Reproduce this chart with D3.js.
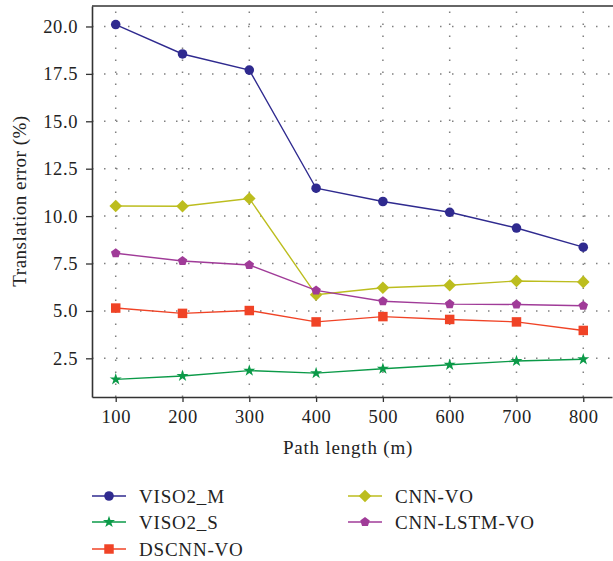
<!DOCTYPE html>
<html>
<head>
<meta charset="utf-8">
<script src="https://cdn.jsdelivr.net/npm/d3@7"></script>
<style>
  body { margin: 0; background: #fff; }
  text { font-family: "Liberation Serif", "Times New Roman", serif; fill: #222; }
</style>
</head>
<body>
<div id="chart"></div>
<script>
const pathLengths = [100, 200, 300, 400, 500, 600, 700, 800];
const viso2M = [20.1, 18.55, 17.7, 11.47, 10.77, 10.2, 9.37, 8.36];
const viso2S = [1.39, 1.57, 1.85, 1.72, 1.95, 2.16, 2.36, 2.45];
const dscnnVO = [5.15, 4.87, 5.02, 4.42, 4.7, 4.55, 4.42, 3.97];
const cnnVO = [10.53, 10.52, 10.93, 5.85, 6.22, 6.35, 6.58, 6.53];
const cnnLstmVO = [8.04, 7.63, 7.42, 6.08, 5.51, 5.36, 5.34, 5.27];
const yTicks = [2.5, 5.0, 7.5, 10.0, 12.5, 15.0, 17.5, 20.0];

const series = [
  { name: "VISO2_M", values: viso2M, color: "#2f2a8f", symbol: "circle" },
  { name: "VISO2_S", values: viso2S, color: "#0b9a48", symbol: "star" },
  { name: "DSCNN-VO", values: dscnnVO, color: "#f04326", symbol: "square" },
  { name: "CNN-VO", values: cnnVO, color: "#bcbd1e", symbol: "diamond" },
  { name: "CNN-LSTM-VO", values: cnnLstmVO, color: "#a03b98", symbol: "pentagon" }
];

const w = 613;
const h = 561;
const margin = { left: 92, top: 6, right: 1, bottom: 164 };

const svg = d3.select("#chart").append("svg").attr("width", w).attr("height", h);

const xScale = d3.scaleLinear().domain([64.5, 843]).range([margin.left, w - margin.right]);
const yScale = d3.scaleLinear().domain([0.46, 21.08]).range([h - margin.bottom, margin.top]);

function symbolPath(type) {
  if (type === "circle") return d3.symbol(d3.symbolCircle, 72)();
  if (type === "square") return d3.symbol(d3.symbolSquare, 90)();
  if (type === "diamond") {
    const s = 6.3;
    return "M0," + -s + "L" + s + ",0L0," + s + "L" + -s + ",0Z";
  }
  if (type === "star") return d3.symbol(d3.symbolStar, 45)();
  if (type === "pentagon") {
    const r = 5;
    const pts = d3.range(5).map((i) => {
      const a = -Math.PI / 2 + (i * 2 * Math.PI) / 5;
      return [r * Math.cos(a), r * Math.sin(a)];
    });
    return "M" + pts.map((p) => p.join(",")).join("L") + "Z";
  }
}

// dotted grid
const grid = svg.append("g").attr("stroke", "#808080").attr("stroke-width", 1.5).attr("stroke-dasharray", "1.5,10.5");
grid.selectAll("line.v").data(pathLengths).enter().append("line")
  .attr("x1", (d) => xScale(d)).attr("x2", (d) => xScale(d))
  .attr("y1", h - margin.bottom).attr("y2", margin.top);
grid.selectAll("line.h").data(yTicks).enter().append("line")
  .attr("x1", margin.left).attr("x2", w - margin.right)
  .attr("y1", (d) => yScale(d)).attr("y2", (d) => yScale(d));

// axes
const xAxis = d3.axisBottom(xScale).tickValues(pathLengths).tickSize(5).tickPadding(8).tickSizeOuter(0);
const yAxis = d3.axisLeft(yScale).tickValues(yTicks).tickSize(6).tickPadding(8).tickSizeOuter(0)
  .tickFormat(d3.format(".1f"));

const gx = svg.append("g")
  .attr("transform", "translate(0," + (h - margin.bottom) + ")")
  .call(xAxis);
const gy = svg.append("g")
  .attr("transform", "translate(" + margin.left + ",0)")
  .call(yAxis);

[gx, gy].forEach((g) => {
  g.attr("font-family", null).attr("font-size", null);
  g.select(".domain").attr("stroke", "#333").attr("stroke-width", 1.6);
  g.selectAll(".tick line").attr("stroke", "#333").attr("stroke-width", 1.3);
  g.selectAll(".tick text").attr("font-size", 18.5).attr("letter-spacing", 0.6).attr("fill", "#222");
});

// top border
svg.append("line")
  .attr("x1", margin.left).attr("x2", w)
  .attr("y1", margin.top).attr("y2", margin.top)
  .attr("stroke", "#333").attr("stroke-width", 1.6);

// axis titles
svg.append("text")
  .attr("x", 348).attr("y", 454)
  .attr("text-anchor", "middle").attr("font-size", 19).attr("letter-spacing", 0.8)
  .text("Path length (m)");
svg.append("text")
  .attr("transform", "translate(26,201) rotate(-90)")
  .attr("text-anchor", "middle").attr("font-size", 19).attr("letter-spacing", 0.5)
  .text("Translation error (%)");

// lines and markers
const line = d3.line().x((d, i) => xScale(pathLengths[i])).y((d) => yScale(d));

series.forEach((s) => {
  svg.append("path")
    .datum(s.values)
    .attr("d", line)
    .attr("fill", "none")
    .attr("stroke", s.color)
    .attr("stroke-width", 1.4);
  svg.selectAll(null).data(s.values).enter().append("path")
    .attr("d", symbolPath(s.symbol))
    .attr("transform", (d, i) => "translate(" + xScale(pathLengths[i]) + "," + yScale(d) + ")")
    .attr("fill", s.color);
});

// legend
const legendPos = [
  [92, 496], [92, 522], [92, 549], [348, 496], [348, 522]
];
series.forEach((s, i) => {
  const [lx, ly] = legendPos[i];
  const g = svg.append("g").attr("transform", "translate(" + lx + "," + ly + ")");
  g.append("line").attr("x1", 0).attr("x2", 34).attr("y1", 0).attr("y2", 0)
    .attr("stroke", s.color).attr("stroke-width", 1.4);
  g.append("path").attr("d", symbolPath(s.symbol)).attr("transform", "translate(17,0)").attr("fill", s.color);
  g.append("text").attr("x", 47).attr("y", 6.5).attr("font-size", 19).attr("letter-spacing", 0.8).text(s.name);
});
</script>
</body>
</html>
